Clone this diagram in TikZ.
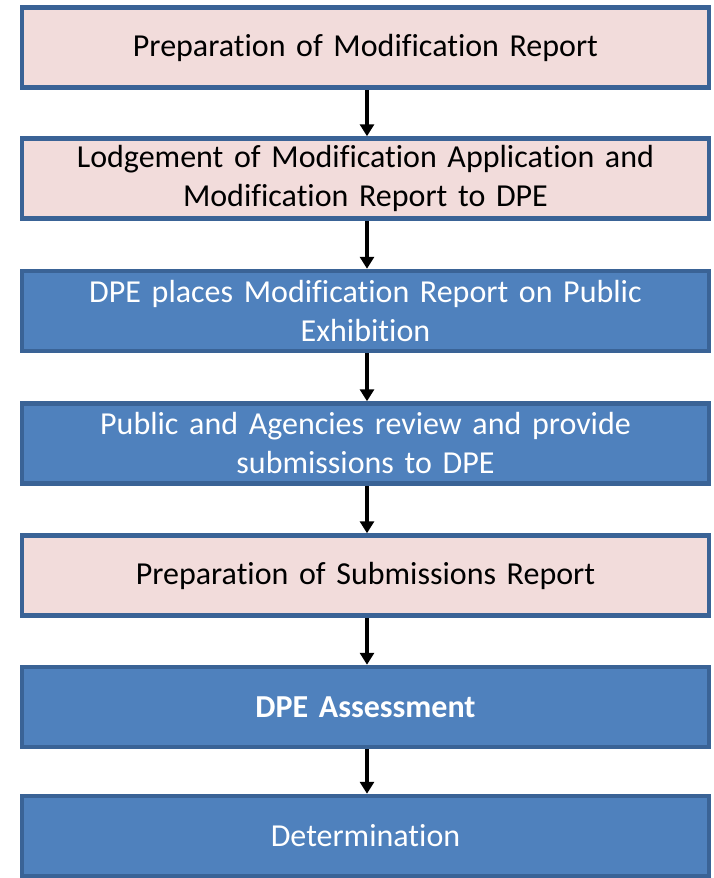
\documentclass[tikz,border=0pt]{standalone}
\usepackage{fontspec}
\setmainfont[Ligatures={NoCommon}]{Carlito}
\usetikzlibrary{arrows.meta}
\definecolor{pinkfill}{HTML}{F2DCDB}
\definecolor{bluefill}{HTML}{4F81BD}
\definecolor{edgeblue}{HTML}{3A6396}
\begin{document}
\begin{tikzpicture}[x=1pt,y=-1pt,
  stage/.style={draw=edgeblue,line width=4.5pt,minimum width=687pt,minimum height=80pt,
    align=center,font=\fontsize{32}{39}\selectfont,inner sep=0pt,text width=670pt},
  pinkbox/.style={stage,fill=pinkfill,text=black},
  bluebox/.style={stage,fill=bluefill,text=white},
  flow/.style={line width=3.5pt,-{Triangle[width=14pt,length=12pt]}}]
\useasboundingbox (0,0) rectangle (713,878);
\node[pinkbox] (b1) at (365.5,47.5) {Preparation of Modification Report};
\node[pinkbox] (b2) at (365.5,178.5) {Lodgement of Modification Application and\\Modification Report to DPE};
\node[bluebox] (b3) at (365.5,311) {DPE places Modification Report on Public\\Exhibition};
\node[bluebox] (b4) at (365.5,443.5) {Public and Agencies review and provide\\submissions to DPE};
\node[pinkbox] (b5) at (365.5,575.5) {Preparation of Submissions Report};
\node[bluebox] (b6) at (365.5,707) {\textbf{DPE Assessment}};
\node[bluebox] (b7) at (365.5,836) {Determination};
\foreach \a/\b in {b1/b2,b2/b3,b3/b4,b4/b5,b5/b6,b6/b7}
  \draw[flow] ([xshift=1.5pt]\a.south) -- ([xshift=1.5pt]\b.north);
\end{tikzpicture}
\end{document}
